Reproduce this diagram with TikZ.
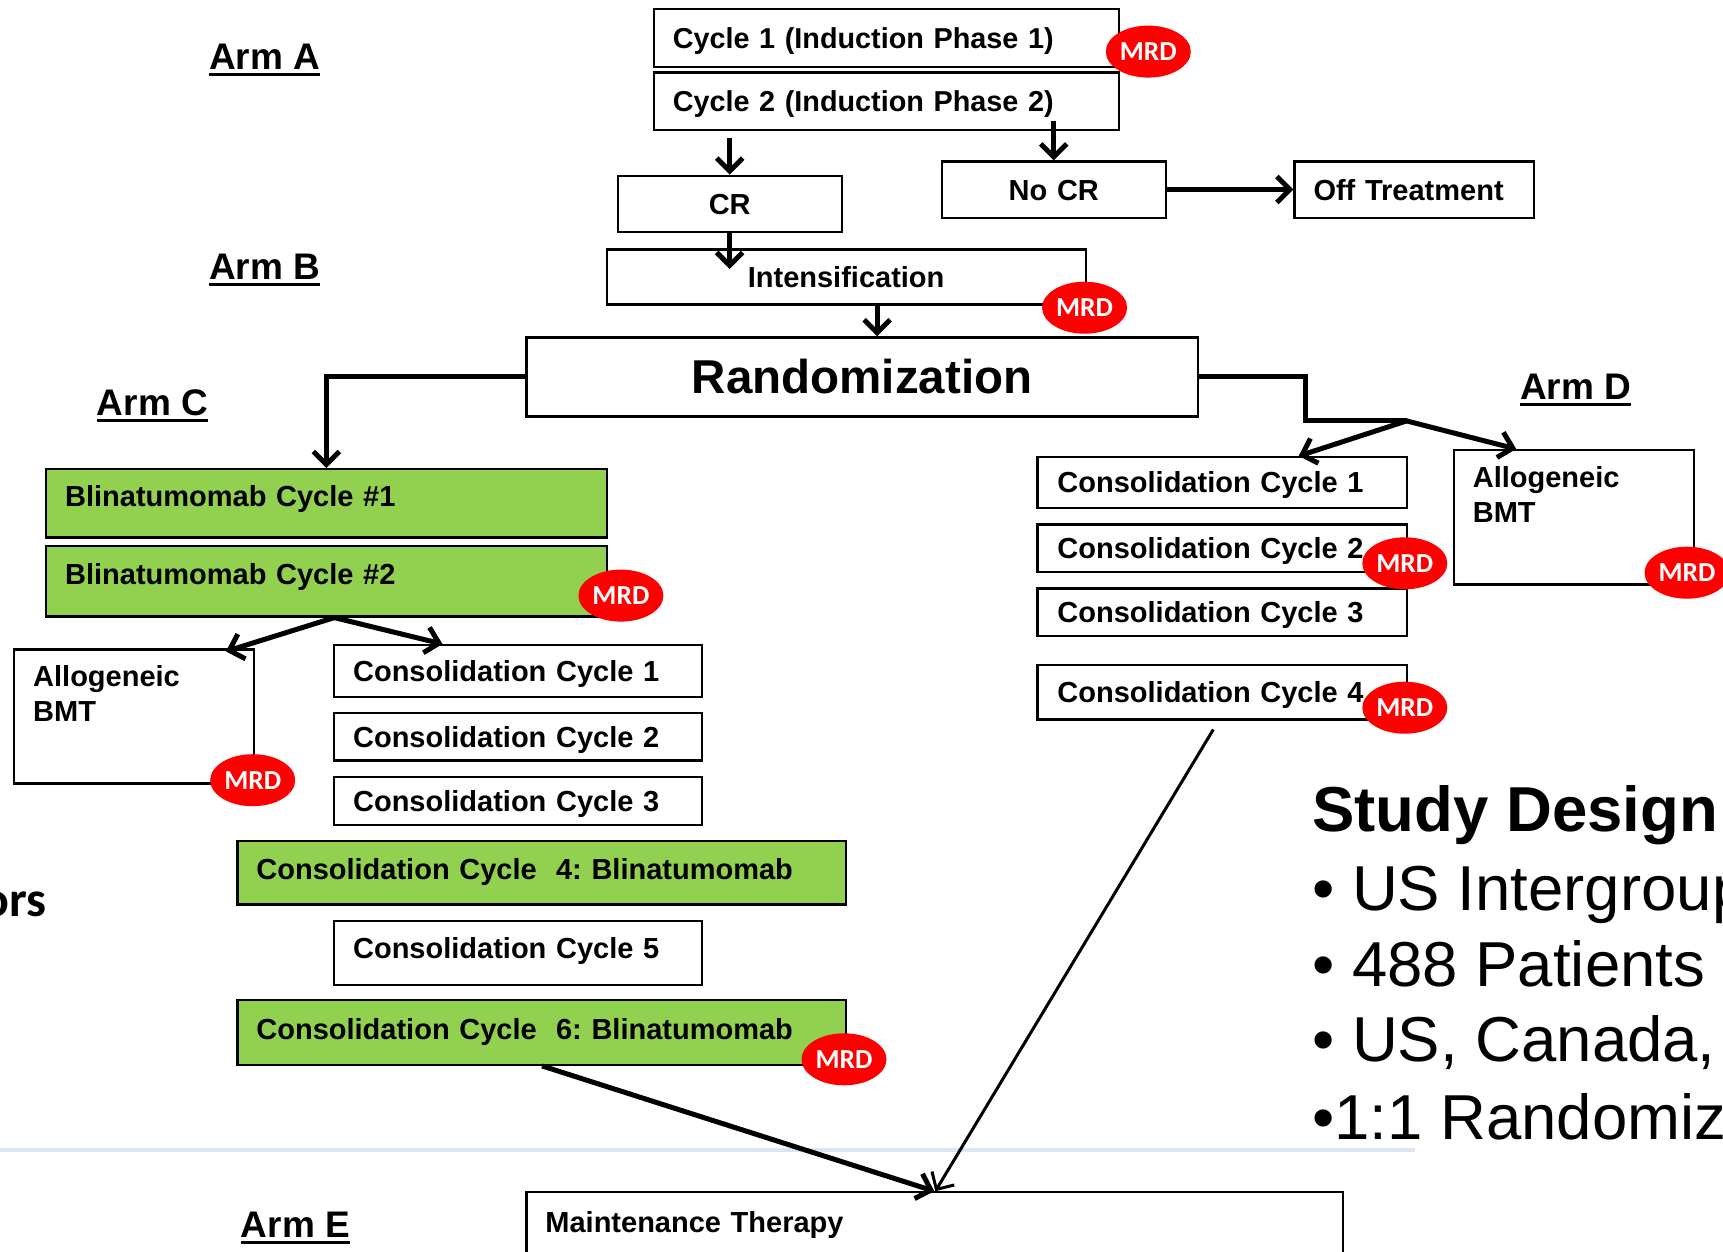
\documentclass[tikz,border=0pt]{standalone}
\usepackage{fontspec}
\setmainfont{Liberation Sans}
\newfontfamily\calib{Carlito}
\usetikzlibrary{arrows.meta,shapes.geometric,calc}
\definecolor{blgreen}{HTML}{92D050}
\definecolor{mrdred}{HTML}{FF0000}
\definecolor{sepline}{HTML}{DCE6F2}
\frenchspacing
\newcommand\bxfont{\fontsize{29}{34}\selectfont\bfseries}
\newcommand\cyfont{\fontsize{28.8}{34}\selectfont\bfseries}
\newcommand\armul[1]{\leavevmode\setbox0\hbox{#1}\rlap{\vrule width\wd0 height -3.5pt depth 6.8pt}\box0}
\tikzset{
  bx/.style={draw, line width=2.2pt, anchor=north west, inner xsep=19pt, inner ysep=0pt,
    align=left, font=\bxfont, text height=21pt, text depth=0pt},
  gbx/.style={bx, fill=blgreen},
  cbx/.style={bx, align=center},
  plainbx/.style={draw, line width=2.2pt, anchor=north west, inner sep=0pt},
  mrd/.style={ellipse, fill=mrdred, text=white, minimum width=85pt, minimum height=52pt,
    inner sep=0pt, font=\calib\bfseries\fontsize{27.5}{33}\selectfont},
  conn/.style={line width=5pt},
  arr/.style={conn, -{Straight Barb[length=13pt,width=26pt]}},
  armlbl/.style={anchor=base west, inner sep=0pt, font=\fontsize{37}{44}\selectfont\bfseries},
  txt/.style={anchor=base west, inner sep=0pt, font=\bxfont},
  big/.style={anchor=base west, inner sep=0pt, font=\fontsize{63.5}{76}\selectfont},
}
\begin{document}
\begin{tikzpicture}[x=1pt,y=-1pt]
\fill[white] (0,0) rectangle (1723,1252);
\useasboundingbox (0,0) rectangle (1723,1252);
\draw[sepline, line width=4pt] (0,1150) -- (1415,1150);

% arm labels
\node[armlbl] (armA) at (208.8,69.5) {\armul{Arm A}};
\node[armlbl] (armB) at (208.8,279) {\armul{Arm B}};
\node[armlbl] (armC) at (96.7,415) {\armul{Arm C}};
\node[armlbl] (armD) at (1520,399) {\armul{Arm D}};
\node[armlbl] (armE) at (240.7,1237.5) {\armul{Arm E}};

% top
\node[bx, text width=427pt, minimum height=58.2pt, font=\cyfont] (c1) at (652.7,7.7) {Cycle 1 (Induction Phase 1)};
\node[bx, text width=427pt, minimum height=57.2pt, font=\cyfont] (c2) at (652.7,71.4) {Cycle 2 (Induction Phase 2)};
\node[cbx, text width=186.2pt, minimum height=56.1pt] (cr) at (616.5,174.7) {CR};
\node[cbx, text width=186pt, minimum height=56.1pt] (nocr) at (940.7,160.4) {No CR};
\node[bx, text width=201.6pt, minimum height=56.1pt] (off) at (1293.4,160.4) {Off Treatment};
\node[cbx, text width=441pt, minimum height=55pt] (intens) at (605.5,248.4) {Intensification};
\node[cbx, text width=633.4pt, minimum height=79.1pt, font=\fontsize{47.5}{56}\selectfont\bfseries, text height=34pt] (rand) at (525.3,336.3) {Randomization};

% arm C
\node[gbx, text width=522.5pt, minimum height=68.2pt, text depth=14pt] (b1) at (45,468.1) {Blinatumomab Cycle \#1};
\node[gbx, text width=522.5pt, minimum height=70.4pt, text depth=15pt] (b2) at (45,545) {Blinatumomab Cycle \#2};
\node[plainbx, minimum width=239.5pt, minimum height=134pt] (callo) at (13.2,648.4) {};
\node[txt] (callot1) at (33,686) {Allogeneic};
\node[txt] (callot2) at (33,721) {BMT};
\node[bx, text width=330pt, minimum height=51.6pt] (cc1) at (333,644) {Consolidation Cycle 1};
\node[bx, text width=330pt, minimum height=47.3pt] (cc2) at (333,712) {Consolidation Cycle 2};
\node[bx, text width=330pt, minimum height=48.4pt] (cc3) at (333,775.8) {Consolidation Cycle 3};
\node[gbx, text width=570.7pt, minimum height=63.7pt, text depth=7pt] (cc4) at (236.3,839.6) {Consolidation Cycle~~4: Blinatumomab};
\node[bx, text width=330pt, minimum height=63.7pt, text depth=9pt] (cc5) at (333,919.8) {Consolidation Cycle 5};
\node[gbx, text width=570.7pt, minimum height=64.8pt, text depth=7.5pt] (cc6) at (236.3,998.9) {Consolidation Cycle~~6: Blinatumomab};

% arm D
\node[bx, inner xsep=20pt, text width=329.2pt, minimum height=50.6pt] (dc1) at (1036.3,456) {Consolidation Cycle 1};
\node[bx, inner xsep=20pt, text width=329.2pt, minimum height=47.7pt] (dc2) at (1036.3,523.3) {Consolidation Cycle 2};
\node[bx, inner xsep=20pt, text width=329.2pt, minimum height=47.7pt] (dc3) at (1036.3,587.3) {Consolidation Cycle 3};
\node[bx, inner xsep=20pt, text width=329.2pt, minimum height=54.3pt] (dc4) at (1036.3,664) {Consolidation Cycle 4};
\node[plainbx, minimum width=239.3pt, minimum height=134.3pt] (dallo) at (1453.2,449) {};
\node[txt] (dallot1) at (1472.6,487) {Allogeneic};
\node[txt] (dallot2) at (1472.6,522) {BMT};

% maintenance
\node[bx, text width=778.5pt, inner ysep=19.3pt, text depth=50pt] (mt) at (525.3,1191.2) {Maintenance Therapy};

% study design text
\node[big, font=\fontsize{63.5}{76}\selectfont\bfseries] (sd) at (1312,831.7) {Study Design};
\node[big] (sd1) at (1312,910.5) {• US Intergroup};
\node[big] (sd2) at (1312,986) {• 488 Patients};
\node[big] (sd3) at (1312,1061.5) {• US, Canada,};
\node[big] (sd4) at (1312,1139) {•1:1 Randomiz};
\node[anchor=base east, inner sep=0pt, font=\calib\bfseries\fontsize{50}{60}\selectfont] (ors) at (47,916) {ors};

% connectors
\draw[arr] ($(cr.north |- c2.south)+(0,7)$) -- (cr.north);
\draw[arr] ($(nocr.north |- c2.south)+(0,-10)$) -- (nocr.north);
\draw[arr] (cr.south) -- ($(cr.south)+(0,36)$);
\draw[arr] ($(intens.south)+(31,0)$) coordinate (ia) -- (ia |- rand.north);
\draw[arr] (nocr.east) -- (off.west);
\draw[arr] (rand.west) -| (b1.north);
\coordinate (dj) at (1406.6,420.9);
\draw[conn] (rand.east) -| ($(dj)+(-101,0)$) -- (dj);
\draw[arr] (dj) -- ($(dc1.north east)+(-109,0)$);
\draw[arr] (dj) -- ($(dallo.north west)+(63,0)$);
\coordinate (cj) at ($(b2.south)+(8,0)$);
\draw[arr] (cj) -- ($(callo.north east)+(-29,3)$);
\draw[arr] (cj) -- ($(cc1.north west)+(109.5,0)$);
\draw[arr] ($(cc6.south west)+(305.7,0)$) -- ($(mt.north west)+(409,0)$);
\draw[arr, line width=3pt] ($(dc4.south west)+(177,9)$) -- ($(mt.north west)+(410,0)$);

% MRD markers
\node[mrd] (m1) at (1148.3,51.6) {MRD};
\node[mrd] (m2) at (1084.6,307.7) {MRD};
\node[mrd] (m3) at (620.9,595.6) {MRD};
\node[mrd] (m4) at (252.7,780.2) {MRD};
\node[mrd] (m5) at (844,1059.3) {MRD};
\node[mrd] (m6) at (1404.8,563.3) {MRD};
\node[mrd] (m7) at (1404.8,707.7) {MRD};
\node[mrd] (m8) at (1687,572.7) {MRD};
\end{tikzpicture}
\end{document}
